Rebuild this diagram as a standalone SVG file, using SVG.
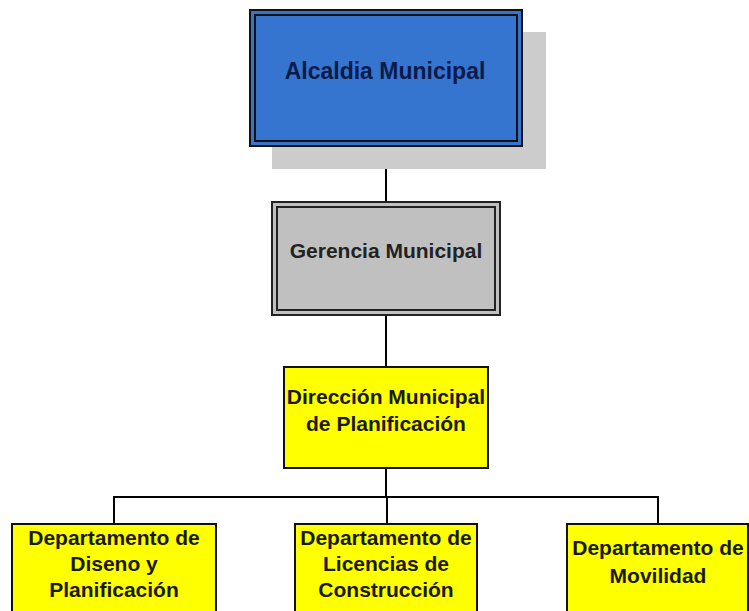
<svg xmlns="http://www.w3.org/2000/svg" width="749" height="611" viewBox="0 0 749 611">
<style>
.t{font-family:"Liberation Sans",Arial,sans-serif;font-weight:bold;text-anchor:middle}
.y{fill:#ffff00;stroke:#111;stroke-width:2}
.ty{fill:#1a1a00;font-size:21px}
.c{fill:none;stroke:#000;stroke-width:2}
</style>
<rect width="749" height="611" fill="#fff"/>
<g id="connectors">
<line class="c" x1="386" y1="146" x2="386" y2="203"/>
<line class="c" x1="386" y1="315" x2="386" y2="367"/>
<line class="c" x1="386" y1="468" x2="386" y2="497"/>
<polyline class="c" points="114,524 114,497 658,497 658,524"/>
<line class="c" x1="387" y1="497" x2="387" y2="524"/>
</g>
<g id="alcaldia">
<rect x="272" y="32" width="274" height="137" fill="#cccccc"/>
<rect x="250" y="10" width="272" height="136" fill="#3575d0" stroke="#111" stroke-width="2"/>
<rect x="255" y="15" width="262" height="126" fill="none" stroke="#111" stroke-width="2"/>
<text class="t" x="385" y="79" font-size="23" fill="#0b1a48">Alcaldia Municipal</text>
</g>
<g id="gerencia">
<rect x="272" y="202" width="228" height="113" fill="#c0c0c0" stroke="#222" stroke-width="2"/>
<rect x="277" y="207" width="218" height="103" fill="none" stroke="#222" stroke-width="2"/>
<text class="t" x="386" y="258" font-size="21" fill="#222">Gerencia Municipal</text>
</g>
<g id="direccion">
<rect class="y" x="284" y="367" width="204" height="101"/>
<text class="t ty" x="386" y="404">Dirección Municipal</text>
<text class="t ty" x="386" y="431">de Planificación</text>
</g>
<g id="diseno">
<rect class="y" x="12" y="524" width="204" height="100"/>
<text class="t ty" x="114" y="545">Departamento de</text>
<text class="t ty" x="114" y="571">Diseno y</text>
<text class="t ty" x="114" y="597">Planificación</text>
</g>
<g id="licencias">
<rect class="y" x="295" y="524" width="182" height="100"/>
<text class="t ty" x="386" y="545">Departamento de</text>
<text class="t ty" x="386" y="571">Licencias de</text>
<text class="t ty" x="386" y="597">Construcción</text>
</g>
<g id="movilidad">
<rect class="y" x="567" y="524" width="181" height="100"/>
<text class="t ty" x="658" y="555">Departamento de</text>
<text class="t ty" x="658" y="583">Movilidad</text>
</g>
</svg>
